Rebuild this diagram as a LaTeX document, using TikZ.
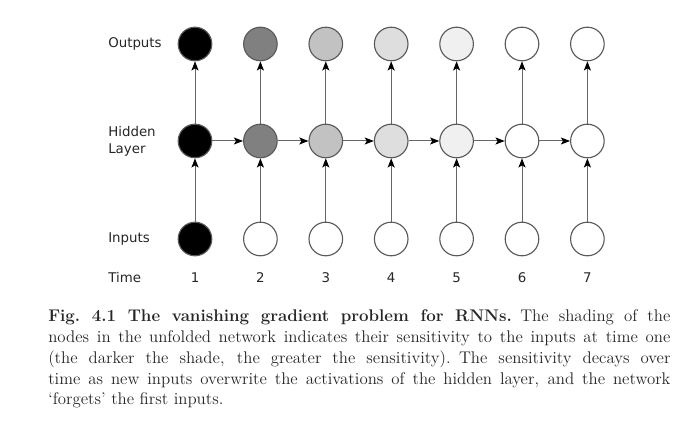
\documentclass[tikz,border=0pt]{standalone}
\usepackage{fontspec}
\newfontfamily\labelfont{DejaVu Sans}
\usetikzlibrary{arrows.meta}
\begin{document}
\begin{tikzpicture}[x=0.025cm,y=0.025cm]
\tikzset{unit/.style={circle, draw=black!65, line width=0.8pt, minimum size=0.84cm, inner sep=0pt},
         link/.style={draw=black!60, line width=0.7pt, -{Stealth[length=6.5pt,width=5pt,inset=1.5pt,color=black]}},
         lbl/.style={font=\labelfont\fontsize{9.5}{12}\selectfont, text=black!85, inner sep=0pt}}
\useasboundingbox (0,0) rectangle (700,425);
\node[lbl, anchor=west] (outlbl) at (108,381) {Outputs};
\node[lbl, anchor=west, align=left] (hidlbl) at (108,284) {Hidden\\Layer};
\node[lbl, anchor=west] (inlbl) at (108,186) {Inputs};
\node[lbl, anchor=west] (timelbl) at (108,147) {Time};
\foreach \i/\s/\t in {1/100/100,2/50/0,3/24/0,4/13/0,5/6/0,6/0/0,7/0/0} {
  \node[unit, fill=black!\s] (o\i) at ({195+(\i-1)*65.4},381) {};
  \node[unit, fill=black!\s] (h\i) at ({195+(\i-1)*65.4},284) {};
  \node[unit, fill=black!\t] (i\i) at ({195+(\i-1)*65.4},186) {};
  \node[lbl] (t\i) at ({195+(\i-1)*65.4},147) {\i};
  \draw[link] (i\i) -- (h\i);
  \draw[link] (h\i) -- (o\i);
}
\foreach \i/\j in {1/2,2/3,3/4,4/5,5/6,6/7}
  \draw[link] (h\i) -- (h\j);
\node[anchor=north west, text width=15.55cm, align=justify, inner sep=0pt, text=black!85,
      font=\fontsize{12}{14.9}\selectfont] (caption) at (48,116)
  {\textbf{Fig.~4.1 The vanishing gradient problem for RNNs.}\enspace The shading of the\linebreak
   nodes in the unfolded network indicates their sensitivity to the inputs at time one\linebreak
   (the darker the shade, the greater the sensitivity).\enspace The sensitivity decays over\linebreak
   time as new inputs overwrite the activations of the hidden layer, and the network\linebreak
   `forgets' the first inputs.};
\end{tikzpicture}
\end{document}
